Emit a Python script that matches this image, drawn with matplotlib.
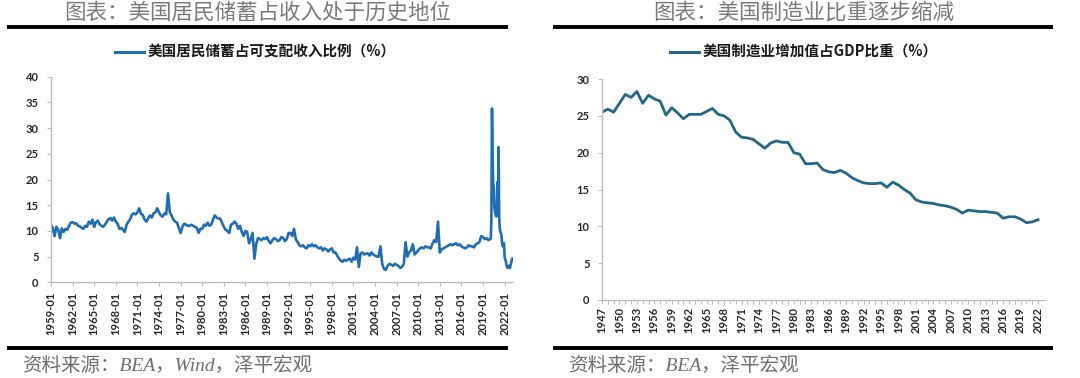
import numpy as np
import matplotlib
matplotlib.use('Agg')
import matplotlib.pyplot as plt
from matplotlib.lines import Line2D

plt.rcParams['font.family'] = ['Noto Sans CJK SC', 'DejaVu Sans']

# ---------------- Left chart data: US personal saving rate (%) ----------------
sav_q_years = list(range(1959, 2020))          # quarterly readings (Jan, Apr, Jul, Oct)
sav_q_months = [1, 4, 7, 10]
sav_q_values = [
    11.2, 10.6, 9.0, 10.8,   # 1959
    10.2, 8.6, 10.5, 9.8,    # 1960
    10.4, 10.2, 11.0, 11.6,  # 1961
    11.7, 11.4, 11.5, 11.0,  # 1962
    10.9, 10.6, 10.4, 11.0,  # 1963
    10.8, 11.8, 11.4, 12.2,  # 1964
    10.8, 11.7, 12.0, 11.3,  # 1965
    11.0, 10.8, 11.2, 11.8,  # 1966
    12.3, 12.5, 12.0, 12.6,  # 1967
    11.8, 11.4, 10.4, 10.6,  # 1968
    10.2, 9.8, 11.2, 11.8,   # 1969
    12.3, 13.2, 13.4, 13.2,  # 1970
    13.6, 14.4, 13.3, 13.1,  # 1971
    12.2, 11.8, 12.4, 13.0,  # 1972
    12.6, 13.4, 13.6, 14.4,  # 1973
    13.6, 13.0, 12.8, 13.4,  # 1974
    13.2, 17.3, 13.6, 13.0,  # 1975
    12.2, 11.8, 11.6, 10.6,  # 1976
    9.6, 10.8, 11.4, 11.2,   # 1977
    11.0, 11.0, 11.2, 11.0,  # 1978
    10.8, 10.6, 9.6, 10.4,   # 1979
    10.4, 11.2, 11.0, 11.6,  # 1980
    11.0, 11.2, 12.2, 13.0,  # 1981
    12.6, 12.4, 12.4, 11.6,  # 1982
    10.8, 10.2, 10.0, 9.6,   # 1983
    11.2, 11.4, 11.8, 11.4,  # 1984
    10.4, 11.0, 9.8, 9.0,    # 1985
    10.0, 9.8, 7.6, 8.4,     # 1986
    9.6, 4.6, 7.4, 8.6,      # 1987
    8.4, 8.2, 8.6, 8.4,      # 1988
    8.8, 8.0, 7.6, 8.2,      # 1989
    8.6, 8.4, 8.0, 8.2,      # 1990
    8.8, 8.6, 8.0, 8.4,      # 1991
    9.6, 9.6, 9.0, 10.4,     # 1992
    8.4, 7.8, 7.2, 7.0,      # 1993
    7.2, 6.8, 6.6, 7.2,      # 1994
    7.0, 7.4, 7.0, 7.2,      # 1995
    6.8, 6.6, 6.8, 6.2,      # 1996
    6.6, 6.4, 6.0, 6.4,      # 1997
    6.6, 5.8, 5.8, 5.2,      # 1998
    4.6, 4.2, 4.0, 4.4,      # 1999
    4.2, 4.4, 4.6, 4.0,      # 2000
    4.8, 4.4, 6.8, 3.0,      # 2001
    5.6, 5.8, 5.4, 5.6,      # 2002
    5.6, 5.2, 5.8, 5.4,      # 2003
    5.2, 5.0, 5.0, 7.0,      # 2004
    3.6, 2.6, 2.4, 3.2,      # 2005
    3.6, 3.4, 3.2, 3.6,      # 2006
    3.4, 3.2, 2.8, 3.0,      # 2007
    3.6, 7.8, 5.0, 5.8,      # 2008
    6.2, 7.4, 5.4, 5.8,      # 2009
    6.2, 6.6, 6.8, 6.6,      # 2010
    7.0, 6.8, 6.8, 6.6,      # 2011
    7.6, 8.2, 7.8, 11.8,     # 2012
    5.8, 6.4, 6.6, 6.8,      # 2013
    7.0, 7.2, 7.4, 7.2,      # 2014
    7.4, 7.6, 7.2, 7.4,      # 2015
    7.0, 6.8, 6.6, 6.8,      # 2016
    7.2, 7.0, 7.0, 6.8,      # 2017
    7.4, 7.6, 7.8, 9.0,      # 2018
    8.8, 8.4, 8.6, 8.2,      # 2019
]
sav_m_dates = ['2020-01', '2020-02', '2020-03', '2020-04', '2020-05', '2020-06',
               '2020-07', '2020-08', '2020-09', '2020-10', '2020-11', '2020-12',
               '2021-01', '2021-02', '2021-03', '2021-04', '2021-05', '2021-06',
               '2021-07', '2021-08', '2021-09', '2021-10', '2021-11', '2021-12',
               '2022-01', '2022-02', '2022-03', '2022-04', '2022-05', '2022-06',
               '2022-07', '2022-08', '2022-09', '2022-10', '2022-11', '2022-12',
               '2023-01', '2023-02']
sav_m_values = [8.4, 8.6, 12.0, 33.8, 24.5, 19.0,
                18.5, 14.5, 13.8, 13.2, 12.8, 13.4,
                19.5, 13.0, 26.3, 12.5, 10.5, 9.8,
                9.6, 8.8, 7.4, 7.0, 7.2, 7.6,
                5.0, 4.4, 4.2, 3.4, 3.0, 2.8,
                3.0, 3.2, 3.0, 2.8, 3.4, 3.8,
                4.4, 4.6]
sav_tick_labels = [f'{y}-01' for y in range(1959, 2023, 3)]
sav_yticks = [0, 5, 10, 15, 20, 25, 30, 35, 40]

# ---------------- Right chart data: manufacturing value added share of GDP (%) ----------------
mfg_years = list(range(1947, 2023))
mfg_values = [
    25.5, 25.9, 25.5, 26.7, 27.9, 27.5, 28.3, 26.7, 27.8, 27.3,   # 1947-1956
    27.0, 25.1, 26.1, 25.4, 24.6, 25.2, 25.2, 25.2, 25.6, 26.0,   # 1957-1966
    25.2, 25.0, 24.4, 22.8, 22.1, 22.0, 21.8, 21.2, 20.6, 21.3,   # 1967-1976
    21.6, 21.4, 21.4, 20.0, 19.8, 18.5, 18.5, 18.6, 17.7, 17.4,   # 1977-1986
    17.3, 17.6, 17.2, 16.6, 16.2, 15.9, 15.8, 15.8, 15.9, 15.3,   # 1987-1996
    16.0, 15.6, 15.0, 14.5, 13.6, 13.3, 13.2, 13.1, 12.9, 12.8,   # 1997-2006
    12.6, 12.3, 11.8, 12.2, 12.1, 12.0, 12.0, 11.9, 11.8, 11.1,   # 2007-2016
    11.3, 11.3, 11.0, 10.5, 10.6, 10.9,                           # 2017-2022
]
mfg_tick_years = list(range(1947, 2023, 3))
mfg_yticks = [0, 5, 10, 15, 20, 25, 30]

# ---------------- Texts ----------------
title_left = '图表：美国居民储蓄占收入处于历史地位'
title_right = '图表：美国制造业比重逐步缩减'
legend_left = '美国居民储蓄占可支配收入比例（%）'
legend_right = '美国制造业增加值占GDP比重（%）'
source_left = '资料来源：BEA，Wind，泽平宏观'
source_right = '资料来源：BEA，泽平宏观'

# ---------------- Helpers ----------------
def month_index(year, month):
    return (year - 1959) * 12 + (month - 1)

sav_x = [month_index(y, m) for y in sav_q_years for m in sav_q_months]
sav_x += [month_index(int(d[:4]), int(d[5:])) for d in sav_m_dates]
sav_y = sav_q_values + sav_m_values

W, H = 1080, 378
fig = plt.figure(figsize=(W / 100, H / 100), dpi=100)

def fx(px):
    return px / W

def fy(py):
    return 1 - py / H

spine_c = '#BDBDBD'
tick_font = dict(family=['Lato', 'DejaVu Sans'], weight='bold', size=8)
tick_c = '#262626'

def style_axes(ax):
    for s in ['top', 'right']:
        ax.spines[s].set_visible(False)
    for s in ['left', 'bottom']:
        ax.spines[s].set_color(spine_c)
        ax.spines[s].set_linewidth(1.0)
    ax.tick_params(axis='both', which='both', direction='out', length=3,
                   color=spine_c, width=0.8, labelcolor=tick_c)
    for lab in ax.get_yticklabels() + ax.get_xticklabels():
        lab.set_fontproperties(matplotlib.font_manager.FontProperties(**tick_font))

# ---------------- Left axes ----------------
ax1 = fig.add_axes([fx(51), fy(282.3), fx(513 - 51), (282.3 - 76.7) / H])
ax1.plot(sav_x, sav_y, color='#1F6DB3', linewidth=1.9, solid_joinstyle='round')
ax1.set_xlim(0, 770)
ax1.set_ylim(0, 40)
ax1.set_yticks(sav_yticks)
ax1.set_yticklabels([str(v) for v in sav_yticks])
ax1.set_xticks([month_index(int(t[:4]), 1) for t in sav_tick_labels])
ax1.set_xticklabels(sav_tick_labels, rotation=90)
ax1.tick_params(axis='x', pad=4)
ax1.tick_params(axis='y', pad=6)
style_axes(ax1)

# ---------------- Right axes ----------------
ax2 = fig.add_axes([fx(602), fy(300), fx(1045 - 602), (300 - 79) / H])
ax2.plot(mfg_years, mfg_values, color='#22668A', linewidth=2.0, solid_joinstyle='round')
ax2.set_xlim(1947, 2023.2)
ax2.set_ylim(0, 30)
ax2.set_yticks(mfg_yticks)
ax2.set_yticklabels([str(v) for v in mfg_yticks])
ax2.set_xticks(mfg_tick_years)
ax2.set_xticklabels([str(y) for y in mfg_tick_years], rotation=90)
ax2.set_xticks(mfg_years, minor=True)
ax2.tick_params(axis='x', pad=2)
ax2.tick_params(axis='y', pad=6)
style_axes(ax2)

# ---------------- Legends ----------------
leg_font = dict(family=['Noto Sans CJK SC', 'DejaVu Sans'], weight='bold', size=10.5)
h1 = Line2D([], [], color='#1F6DB3', linewidth=2.2)
l1 = ax1.legend([h1], [legend_left], loc='center left', frameon=False,
                bbox_to_anchor=(fx(108), fy(52)), bbox_transform=fig.transFigure,
                handlelength=2.0, handletextpad=0.2, borderpad=0,
                prop=matplotlib.font_manager.FontProperties(**leg_font))
for t in l1.get_texts():
    t.set_color('#1a1a1a')
h2 = Line2D([], [], color='#22668A', linewidth=2.2)
l2 = ax2.legend([h2], [legend_right], loc='center left', frameon=False,
                bbox_to_anchor=(fx(663), fy(52)), bbox_transform=fig.transFigure,
                handlelength=2.0, handletextpad=0.2, borderpad=0,
                prop=matplotlib.font_manager.FontProperties(**leg_font))
for t in l2.get_texts():
    t.set_color('#1a1a1a')

# ---------------- Titles, rules, sources ----------------
title_c = '#7a7a7a'
fig.text(fx(258), fy(24), title_left, ha='center', va='bottom', fontsize=15.5,
         color=title_c, family=['Noto Sans CJK SC', 'DejaVu Sans'])
fig.text(fx(804), fy(24), title_right, ha='center', va='bottom', fontsize=15.5,
         color=title_c, family=['Noto Sans CJK SC', 'DejaVu Sans'])

for (x0, x1) in [(7, 508), (553, 1053)]:
    for yy in (27, 348):
        fig.add_artist(Line2D([fx(x0), fx(x1)], [fy(yy), fy(yy)], color='black',
                              linewidth=2.8, solid_capstyle='butt'))

src_c = '#6e6e6e'
fig.text(fx(22), fy(366), source_left, ha='left', va='center', fontsize=14,
         color=src_c, style='italic', family=['Liberation Serif', 'Noto Sans CJK SC'])
fig.text(fx(568), fy(366), source_right, ha='left', va='center', fontsize=14,
         color=src_c, style='italic', family=['Liberation Serif', 'Noto Sans CJK SC'])

fig.savefig('out.png', dpi=100)
